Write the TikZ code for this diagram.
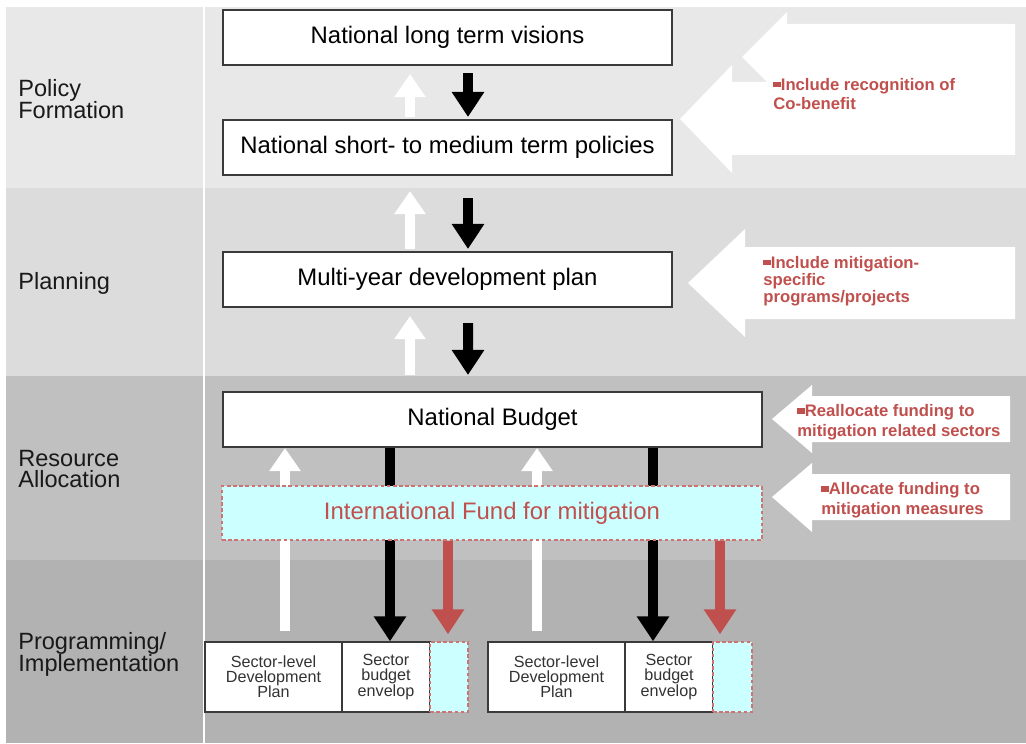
\documentclass[tikz,border=0pt]{standalone}
\usepackage{fontspec}
\setmainfont{Liberation Sans}
\usetikzlibrary{arrows.meta,calc}
\definecolor{bandA}{HTML}{E8E8E8}
\definecolor{bandB}{HTML}{DCDCDC}
\definecolor{bandC}{HTML}{C0C0C0}
\definecolor{bandD}{HTML}{B2B2B2}
\definecolor{fundred}{HTML}{C0504D}
\definecolor{fundcyan}{HTML}{CCFFFF}
\definecolor{boxline}{HTML}{3A3A3A}
\newcommand{\notebul}{\rule[0.3ex]{0.15cm}{0.11cm}}

\begin{document}
\begin{tikzpicture}[x=0.02cm,y=-0.02cm,
  every node/.style={font=\fontsize{13.6}{15}\selectfont},
  mainbox/.style={draw=boxline,line width=1.2pt,fill=white,minimum height=1.1cm,inner sep=0pt},
  sectbox/.style={draw=boxline,line width=0.8pt,fill=white,minimum height=1.4cm,inner sep=0pt,align=center,text=black!80,font=\fontsize{9.2}{8.6}\selectfont},
  cyanbox/.style={draw=fundred!80,dash pattern=on 2pt off 1.5pt,line width=0.8pt,fill=fundcyan,minimum height=1.4cm,inner sep=0pt},
  stage/.style={anchor=west,align=left,inner sep=0pt,text=black!90,font=\fontsize{13.4}{12.5}\selectfont},
  note/.style={anchor=west,align=left,inner sep=0pt,text=fundred,font=\bfseries\fontsize{9.5}{11.3}\selectfont},
  dnarr/.style={line width=0.2cm,-{Triangle[width=0.62cm,length=0.5cm]}},
  uparr/.style={white,line width=0.21cm,-{Triangle[width=0.6cm,length=0.46cm]}}]
\useasboundingbox (0,0) rectangle (1026,743);
% bands
\fill[bandA] (6,7) rectangle (1026,188);
\fill[bandB] (6,188) rectangle (1026,376);
\fill[bandC] (6,376) rectangle (1026,560);
\fill[bandD] (6,560) rectangle (1026,743);
\draw[white,line width=0.04cm] (204,7) -- (204,743);

% stages
\node[stage] (pf) at (18,99) {Policy\\Formation};
\node[stage] (pl) at (18,283) {Planning};
\node[stage] (ra) at (18,469) {Resource\\Allocation};
\node[stage] (pi) at (18,654) {Programming/\\Implementation};

% right side block arrows
\fill[white] (1015,24) -- (787,24) -- (787,12) -- (742,57) -- (787,102) -- (787,90) -- (1015,90) -- cycle;
\fill[white] (1015,82) -- (732,82) -- (732,65) -- (680,119) -- (732,173) -- (732,155) -- (1015,155) -- cycle;
\fill[white] (1015,247) -- (745,247) -- (745,229) -- (688,283) -- (745,337) -- (745,319) -- (1015,319) -- cycle;
\fill[white] (1010,396) -- (812,396) -- (812,385) -- (772,419) -- (812,453) -- (812,442) -- (1010,442) -- cycle;
\fill[white] (1010,474) -- (812,474) -- (812,463) -- (772,497) -- (812,532) -- (812,520) -- (1010,520) -- cycle;
\node[note] (n1) at (773,94) {\notebul Include recognition of\\Co-benefit};
\node[note,font=\bfseries\fontsize{9.5}{9.8}\selectfont] (n2) at (763,281) {\notebul Include mitigation-\\specific\\programs/projects};
\node[note] (n3) at (797,422) {\notebul Reallocate funding to\\mitigation related sectors};
\node[note] (n4) at (821,500) {\notebul Allocate funding to\\mitigation measures};

% main chain
\node[mainbox,minimum width=8.98cm] (vision) at (447.5,37.5) {National long term visions};
\node[mainbox,minimum width=8.98cm] (policy) at (447.5,147.5) {National short- to medium term policies};
\node[mainbox,minimum width=8.98cm] (plan) at (447.5,279.5) {Multi-year development plan};
\node[mainbox,minimum width=10.78cm] (budget) at (492.5,419.5) {National Budget};

\draw[dnarr] ($(vision.south)+(20.5,7)$) -- ($(policy.north)+(20.5,-2)$);
\draw[dnarr] ($(policy.south)+(20.5,22)$) -- ($(plan.north)+(20.5,-2)$);
\draw[dnarr] ($(plan.south)+(20.5,15)$) -- ($(budget.north)+(-24.5,-16)$);
\draw[uparr] ($(policy.north)+(-37.5,-2)$) -- ($(vision.south)+(-37.5,8)$);
\draw[uparr] ($(plan.north)+(-37.5,-2)$) -- ($(policy.south)+(-37.5,15)$);
\draw[uparr] ($(budget.north)+(-82.5,-16)$) -- ($(plan.south)+(-37.5,8)$);

% sectors
\node[sectbox,minimum width=2.74cm] (sdp1) at (273.5,677) {Sector-level\\Development\\Plan};
\node[sectbox,minimum width=1.76cm] (sbe1) at (386,677) {Sector\\budget\\envelop};
\node[cyanbox,minimum width=0.76cm] (cy1) at (449,677) {};
\node[sectbox,minimum width=2.74cm] (sdp2) at (556.5,677) {Sector-level\\Development\\Plan};
\node[sectbox,minimum width=1.76cm] (sbe2) at (669,677) {Sector\\budget\\envelop};
\node[cyanbox,minimum width=0.78cm] (cy2) at (732.5,677) {};

\coordinate (w1) at ($(sdp1.north)+(11.5,-10)$);
\coordinate (w2) at ($(sdp2.north)+(-19.5,-10)$);
\coordinate (k1) at ($(sbe1.north)+(4,0)$);
\coordinate (k2) at ($(sbe2.north)+(-16,0)$);
\coordinate (r1) at ($(cy1.north)+(-1,-7)$);
\coordinate (r2) at ($(cy2.north)+(-12.5,-7)$);
\draw[uparr] (w1) -- (w1 |- budget.south);
\draw[uparr] (w2) -- (w2 |- budget.south);
\draw[dnarr] (k1 |- budget.south) -- (k1);
\draw[dnarr] (k2 |- budget.south) -- (k2);

\node[cyanbox,minimum width=10.8cm,minimum height=1.08cm,text=fundred] (fund) at (492,513) {International Fund for mitigation};
\draw[dnarr,fundred] (r1 |- fund.south) -- (r1);
\draw[dnarr,fundred] (r2 |- fund.south) -- (r2);
\end{tikzpicture}
\end{document}
